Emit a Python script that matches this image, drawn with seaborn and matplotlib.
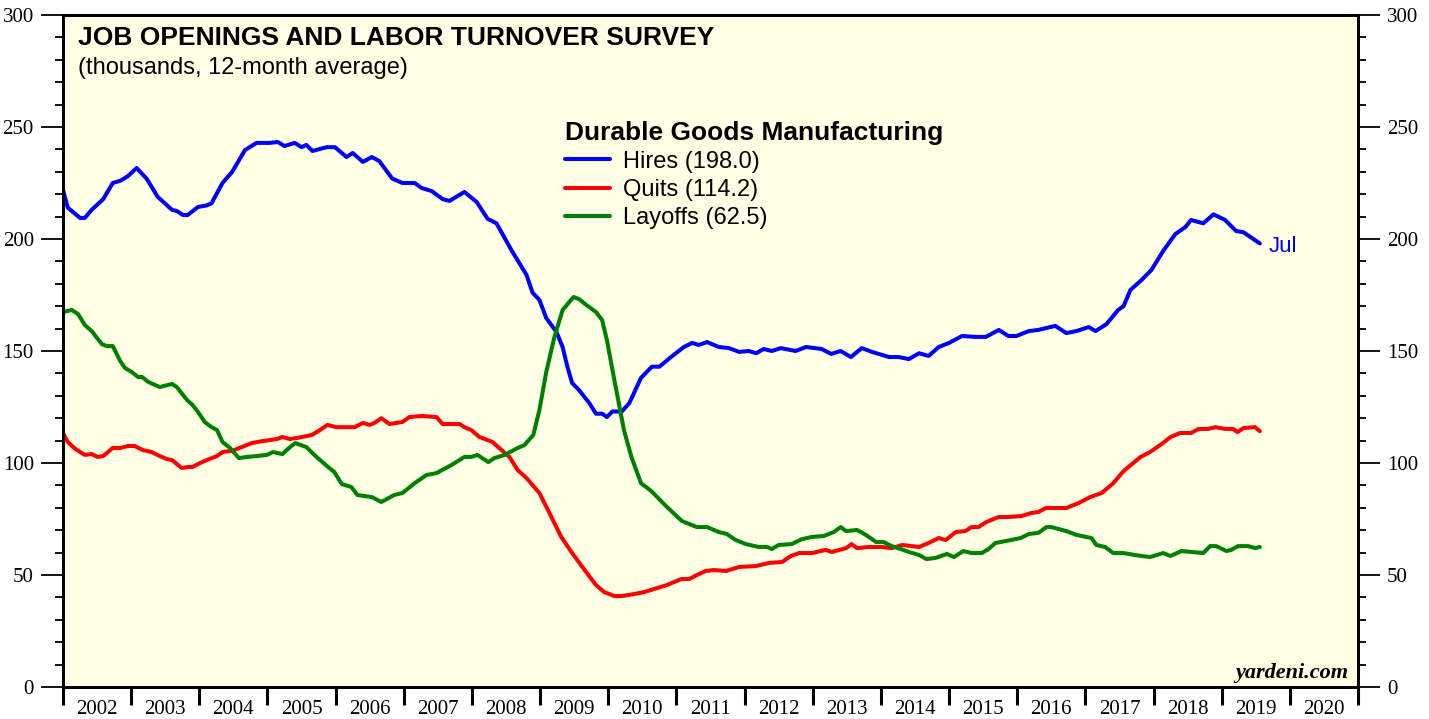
import matplotlib
matplotlib.use("Agg")
import matplotlib.pyplot as plt
import seaborn as sns
import pandas as pd
from matplotlib.ticker import MultipleLocator, FixedLocator, NullFormatter

# --- data (thousands, 12-month average) ---
hires_year = [2002.00, 2002.07, 2002.25, 2002.32, 2002.42, 2002.59, 2002.73, 2002.84, 2002.95, 2003.08,
              2003.23, 2003.39, 2003.60, 2003.67, 2003.76, 2003.83, 2003.98, 2004.11, 2004.18, 2004.34,
              2004.48, 2004.55, 2004.67, 2004.84, 2005.03, 2005.15, 2005.25, 2005.40, 2005.50, 2005.57,
              2005.66, 2005.87, 2005.99, 2006.16, 2006.25, 2006.40, 2006.53, 2006.64, 2006.83, 2006.98,
              2007.16, 2007.26, 2007.41, 2007.57, 2007.67, 2007.89, 2008.07, 2008.23, 2008.36, 2008.58,
              2008.80, 2008.89, 2008.99, 2009.09, 2009.24, 2009.33, 2009.40, 2009.47, 2009.57, 2009.72,
              2009.82, 2009.91, 2009.98, 2010.06, 2010.20, 2010.31, 2010.48, 2010.64, 2010.75, 2010.92,
              2011.11, 2011.23, 2011.33, 2011.45, 2011.62, 2011.77, 2011.92, 2012.06, 2012.17, 2012.28,
              2012.40, 2012.53, 2012.75, 2012.90, 2013.13, 2013.27, 2013.41, 2013.56, 2013.72, 2013.87,
              2014.12, 2014.26, 2014.41, 2014.56, 2014.70, 2014.85, 2015.00, 2015.19, 2015.39, 2015.54,
              2015.73, 2015.87, 2015.99, 2016.17, 2016.31, 2016.43, 2016.56, 2016.72, 2016.87, 2017.05,
              2017.15, 2017.31, 2017.48, 2017.56, 2017.66, 2017.81, 2017.97, 2018.14, 2018.32, 2018.47,
              2018.55, 2018.73, 2018.88, 2019.05, 2019.21, 2019.32, 2019.56]
hires = [221.9, 214.0, 209.4, 209.4, 213.0, 217.8, 225.0, 226.0, 228.0, 231.7,
         226.8, 218.8, 213.0, 212.5, 210.7, 210.7, 214.3, 215.0, 216.0, 225.0,
         229.9, 233.5, 239.7, 242.9, 242.9, 243.3, 241.5, 242.9, 241.0, 242.0,
         239.3, 241.0, 241.0, 236.6, 238.4, 234.4, 236.6, 234.8, 227.0, 225.0,
         225.0, 222.8, 221.4, 217.8, 217.0, 221.0, 216.5, 209.0, 207.0, 195.0,
         184.0, 176.0, 172.8, 164.7, 158.5, 151.8, 143.0, 135.7, 132.6, 126.8,
         122.0, 122.0, 120.5, 123.0, 123.0, 126.8, 138.0, 143.0, 143.0, 147.3,
         151.8, 153.6, 152.7, 154.0, 151.8, 151.3, 149.6, 150.0, 149.0, 150.9,
         150.0, 151.3, 150.0, 151.8, 150.9, 148.7, 150.0, 147.3, 151.3, 149.6,
         147.3, 147.3, 146.4, 149.0, 147.8, 151.8, 153.6, 156.7, 156.3, 156.3,
         159.4, 156.7, 156.7, 158.9, 159.4, 160.3, 161.2, 158.0, 158.9, 160.7,
         158.9, 162.0, 168.3, 170.0, 177.2, 181.3, 186.2, 194.6, 202.2, 205.4,
         208.5, 207.0, 211.0, 208.5, 203.6, 203.0, 198.0]

quits_year = [2002.00, 2002.07, 2002.18, 2002.32, 2002.42, 2002.51, 2002.59, 2002.73, 2002.84, 2002.95,
              2003.05, 2003.17, 2003.30, 2003.42, 2003.52, 2003.60, 2003.74, 2003.83, 2003.90, 2004.01,
              2004.15, 2004.26, 2004.34, 2004.48, 2004.62, 2004.77, 2004.93, 2005.14, 2005.22, 2005.33,
              2005.44, 2005.65, 2005.77, 2005.88, 2006.01, 2006.16, 2006.28, 2006.40, 2006.50, 2006.57,
              2006.67, 2006.79, 2006.98, 2007.08, 2007.26, 2007.48, 2007.57, 2007.82, 2007.89, 2007.99,
              2008.11, 2008.30, 2008.40, 2008.55, 2008.67, 2008.80, 2008.99, 2009.13, 2009.31, 2009.47,
              2009.62, 2009.82, 2009.94, 2010.09, 2010.20, 2010.38, 2010.53, 2010.72, 2010.86, 2011.07,
              2011.19, 2011.30, 2011.43, 2011.55, 2011.73, 2011.92, 2012.17, 2012.36, 2012.55, 2012.68,
              2012.80, 2012.99, 2013.19, 2013.28, 2013.49, 2013.57, 2013.65, 2013.82, 2014.01, 2014.16,
              2014.31, 2014.56, 2014.70, 2014.85, 2014.95, 2015.10, 2015.24, 2015.33, 2015.43, 2015.55,
              2015.73, 2015.87, 2016.06, 2016.21, 2016.31, 2016.42, 2016.72, 2016.90, 2017.07, 2017.24,
              2017.41, 2017.56, 2017.81, 2017.95, 2018.12, 2018.25, 2018.39, 2018.55, 2018.66, 2018.80,
              2018.91, 2019.05, 2019.17, 2019.23, 2019.32, 2019.49, 2019.56]
quits = [113.4, 109.4, 106.3, 103.6, 104.0, 102.7, 103.1, 106.7, 106.7, 107.6,
         107.6, 105.8, 104.9, 103.1, 101.8, 101.3, 97.8, 98.2, 98.2, 100.0,
         101.8, 103.1, 104.9, 105.4, 107.1, 108.9, 109.8, 110.7, 111.6, 110.7,
         111.2, 112.5, 114.7, 117.0, 116.0, 116.0, 116.0, 117.9, 117.0, 117.9,
         120.0, 117.4, 118.3, 120.5, 121.0, 120.5, 117.4, 117.4, 116.0, 114.7,
         111.6, 109.4, 106.7, 102.7, 96.9, 93.3, 86.6, 78.1, 67.0, 59.8,
         53.6, 45.5, 42.4, 40.6, 40.6, 41.5, 42.4, 44.2, 45.5, 48.2,
         48.2, 50.0, 51.8, 52.2, 51.8, 53.6, 54.0, 55.4, 55.8, 58.5,
         59.8, 59.8, 61.2, 60.3, 62.0, 63.8, 62.0, 62.5, 62.5, 62.0,
         63.4, 62.5, 64.3, 66.5, 65.6, 69.2, 69.6, 71.4, 71.4, 73.7,
         75.9, 75.9, 76.3, 77.7, 78.1, 79.9, 79.9, 82.1, 84.8, 86.6,
         91.0, 96.4, 102.7, 104.9, 108.5, 111.6, 113.4, 113.4, 115.2, 115.2,
         116.0, 115.2, 115.2, 113.8, 115.6, 116.0, 114.2]

layoffs_year = [2002.00, 2002.13, 2002.22, 2002.32, 2002.42, 2002.57, 2002.64, 2002.73, 2002.84, 2002.91,
                2003.01, 2003.10, 2003.16, 2003.25, 2003.42, 2003.60, 2003.67, 2003.82, 2003.90, 2003.98,
                2004.08, 2004.18, 2004.26, 2004.34, 2004.45, 2004.58, 2004.70, 2004.84, 2004.99, 2005.08,
                2005.22, 2005.33, 2005.41, 2005.57, 2005.72, 2005.87, 2005.98, 2006.09, 2006.23, 2006.32,
                2006.53, 2006.67, 2006.86, 2006.98, 2007.16, 2007.33, 2007.48, 2007.70, 2007.89, 2007.99,
                2008.08, 2008.24, 2008.33, 2008.48, 2008.67, 2008.77, 2008.90, 2008.99, 2009.09, 2009.21,
                2009.33, 2009.49, 2009.57, 2009.68, 2009.82, 2009.91, 2009.98, 2010.09, 2010.23, 2010.34,
                2010.48, 2010.63, 2010.86, 2011.08, 2011.30, 2011.45, 2011.62, 2011.74, 2011.87, 2012.02,
                2012.21, 2012.33, 2012.40, 2012.50, 2012.69, 2012.84, 2012.99, 2013.16, 2013.31, 2013.41,
                2013.49, 2013.65, 2013.78, 2013.93, 2014.04, 2014.16, 2014.29, 2014.41, 2014.56, 2014.67,
                2014.80, 2014.97, 2015.07, 2015.21, 2015.33, 2015.48, 2015.58, 2015.68, 2015.84, 2016.05,
                2016.17, 2016.31, 2016.43, 2016.50, 2016.61, 2016.72, 2016.87, 2017.09, 2017.16, 2017.29,
                2017.41, 2017.56, 2017.73, 2017.95, 2018.14, 2018.25, 2018.41, 2018.55, 2018.73, 2018.83,
                2018.92, 2019.07, 2019.14, 2019.24, 2019.39, 2019.49, 2019.56]
layoffs = [167.4, 168.3, 166.5, 161.6, 158.9, 153.1, 152.2, 152.2, 145.5, 142.4,
           140.6, 138.4, 138.4, 136.2, 133.9, 135.3, 133.9, 128.1, 125.9, 122.8,
           118.3, 116.0, 114.7, 109.4, 106.7, 102.2, 102.7, 103.1, 103.6, 104.9,
           104.0, 107.1, 108.9, 107.1, 102.7, 98.7, 96.0, 90.6, 89.3, 85.7,
           84.8, 82.6, 85.7, 86.6, 91.0, 94.6, 95.5, 99.1, 102.7, 102.7,
           103.6, 100.4, 102.2, 103.6, 106.7, 108.0, 112.5, 123.7, 140.6, 156.3,
           168.3, 174.1, 173.2, 170.5, 167.4, 163.8, 154.9, 137.0, 114.7, 102.7,
           91.0, 87.5, 80.4, 74.1, 71.4, 71.4, 69.2, 68.3, 65.6, 63.8,
           62.5, 62.5, 61.6, 63.4, 63.8, 66.0, 67.0, 67.4, 69.2, 71.4,
           69.6, 70.1, 67.9, 64.7, 64.7, 62.9, 61.6, 60.3, 58.9, 57.1,
           57.6, 59.4, 58.0, 60.7, 59.8, 59.8, 61.6, 64.3, 65.2, 66.5,
           68.3, 68.8, 71.4, 71.4, 70.5, 69.6, 67.9, 66.5, 63.4, 62.5,
           59.8, 59.8, 58.9, 58.0, 59.8, 58.5, 60.7, 60.3, 59.8, 62.9,
           62.9, 60.7, 61.2, 62.9, 62.9, 62.0, 62.5]

series_names = ["Hires (198.0)", "Quits (114.2)", "Layoffs (62.5)"]
series_colors = ["#0000FF", "#FF0000", "#008000"]
years = list(range(2002, 2021))

df = pd.concat([
    pd.DataFrame({"year": hires_year, "value": hires, "series": series_names[0]}),
    pd.DataFrame({"year": quits_year, "value": quits, "series": series_names[1]}),
    pd.DataFrame({"year": layoffs_year, "value": layoffs, "series": series_names[2]}),
], ignore_index=True)

sns.set_style("ticks")
plt.rcParams["font.family"] = ["Liberation Sans", "DejaVu Sans"]
plt.rcParams["text.color"] = "black"
plt.rcParams["xtick.color"] = "black"
plt.rcParams["ytick.color"] = "black"
plt.rcParams["axes.labelcolor"] = "black"
plt.rcParams["axes.edgecolor"] = "black"

fig = plt.figure(figsize=(14.29, 7.19), dpi=100)
ax = fig.add_axes([63 / 1429, 1 - 687 / 719, (1358 - 63) / 1429, (687 - 15) / 719])
ax.set_facecolor("#FFFFE6")

sns.lineplot(data=df, x="year", y="value", hue="series", hue_order=series_names,
             palette=series_colors, linewidth=2.9, ax=ax, legend=False, sort=False)

ax.set_xlim(2002, 2021)
ax.set_ylim(0, 300)
ax.set_xlabel("")
ax.set_ylabel("")

for sp in ax.spines.values():
    sp.set_linewidth(2.0)
    sp.set_color("black")

# x axis: year boundaries as ticks, labels centred in between
ax.xaxis.set_major_locator(FixedLocator(years + [2021]))
ax.xaxis.set_major_formatter(NullFormatter())
ax.xaxis.set_minor_locator(FixedLocator([y + 0.5 for y in years]))
ax.set_xticklabels([str(y) for y in years], minor=True)
ax.tick_params(axis="x", which="major", direction="out", length=13, width=2.2)
ax.tick_params(axis="x", which="minor", length=0, pad=9)

# y axes on both sides
ax.yaxis.set_major_locator(MultipleLocator(50))
ax.yaxis.set_minor_locator(MultipleLocator(10))
ax.tick_params(axis="y", which="major", direction="out", length=16, width=1.3, pad=5)
ax.tick_params(axis="y", which="minor", direction="out", length=6, width=1.3)

ax2 = ax.twinx()
ax2.set_ylim(0, 300)
ax2.yaxis.set_major_locator(MultipleLocator(50))
ax2.yaxis.set_minor_locator(MultipleLocator(10))
ax2.tick_params(axis="y", which="major", direction="out", length=16, width=1.3, pad=5)
ax2.tick_params(axis="y", which="minor", direction="out", length=6, width=1.3)
for sp in ax2.spines.values():
    sp.set_linewidth(2.0)
    sp.set_color("black")

for lab in ax.get_xticklabels(minor=True) + ax.get_yticklabels() + ax2.get_yticklabels():
    lab.set_fontfamily("Liberation Serif")
    lab.set_fontsize(15)
    lab.set_color("black")

# titles
ax.text(0.0116, 0.955, "JOB OPENINGS AND LABOR TURNOVER SURVEY", transform=ax.transAxes,
        fontsize=19, fontweight="bold", va="baseline", ha="left", color="black")
ax.text(0.0116, 0.912, "(thousands, 12-month average)", transform=ax.transAxes,
        fontsize=17, va="baseline", ha="left", color="black")

# legend
leg = ax.legend(handles=ax.lines[:3], labels=series_names, loc="upper left",
                bbox_to_anchor=(0.3876, 0.843), frameon=False, fontsize=17,
                title="Durable Goods Manufacturing", title_fontproperties={"size": 19, "weight": "bold"},
                alignment="left", borderpad=0, borderaxespad=0, handlelength=1.9,
                handletextpad=0.55, labelspacing=0.26)
for t in leg.get_texts() + [leg.get_title()]:
    t.set_color("black")

# end label
ax.annotate("Jul", xy=(hires_year[-1], hires[-1]), xytext=(6, -2), textcoords="offset points",
            color="#0000FF", fontsize=16, va="center", ha="left")

ax.text(0.9925, 0.013, "yardeni.com", transform=ax.transAxes, fontsize=16,
        fontfamily="Liberation Serif", fontweight="bold", fontstyle="italic",
        ha="right", va="baseline", color="black")

fig.savefig("out.png", dpi=100, facecolor="white")
